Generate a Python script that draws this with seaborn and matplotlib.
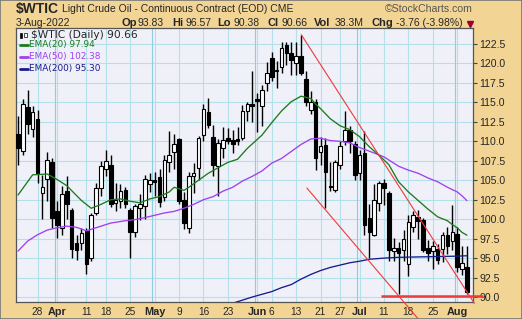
import matplotlib
matplotlib.use("Agg")
import matplotlib.pyplot as plt
import seaborn as sns
import pandas as pd
import numpy as np
from matplotlib.patches import Rectangle
from matplotlib.lines import Line2D

# ---------------- data ----------------
dates = ["03-22", "03-23", "03-24", "03-25", "03-28", "03-29", "03-30", "03-31",
         "04-01", "04-04", "04-05", "04-06", "04-07", "04-08", "04-11", "04-12",
         "04-13", "04-14", "04-18", "04-19", "04-20", "04-21", "04-22", "04-25",
         "04-26", "04-27", "04-28", "04-29", "05-02", "05-03", "05-04", "05-05",
         "05-06", "05-09", "05-10", "05-11", "05-12", "05-13", "05-16", "05-17",
         "05-18", "05-19", "05-20", "05-23", "05-24", "05-25", "05-26", "05-27",
         "05-31", "06-01", "06-02", "06-03", "06-06", "06-07", "06-08", "06-09",
         "06-10", "06-13", "06-14", "06-15", "06-16", "06-17", "06-21", "06-22",
         "06-23", "06-24", "06-27", "06-28", "06-29", "06-30", "07-01", "07-05",
         "07-06", "07-07", "07-08", "07-11", "07-12", "07-13", "07-14", "07-15",
         "07-18", "07-19", "07-20", "07-21", "07-22", "07-25", "07-26", "07-27",
         "07-28", "07-29", "08-01", "08-02", "08-03"]

opens = [110.9, 108.7, 114.4, 111.6, 112.9, 103.3, 105.1, 107.4, 101.1, 98.9,
         103.6, 101.2, 97.0, 96.9, 98.5, 95.0, 100.8, 104.0, 106.5, 107.0,
         102.1, 102.3, 103.8, 101.2, 98.4, 101.4, 101.7, 104.5, 105.0, 105.4,
         102.9, 107.4, 108.6, 110.3, 102.5, 98.9, 105.5, 106.6, 110.8, 113.8,
         110.6, 106.8, 109.1, 110.4, 110.2, 110.3, 110.4, 113.9, 114.8, 115.5,
         114.6, 117.5, 120.7, 119.0, 119.6, 122.4, 121.3, 120.1, 120.9, 118.0,
         114.0, 115.0, 108.6, 109.5, 104.2, 103.8, 107.0, 110.0, 111.5, 109.6,
         105.9, 108.5, 100.2, 98.0, 102.1, 104.7, 103.4, 95.9, 96.3, 96.1,
         94.3, 99.0, 100.3, 99.9, 96.3, 95.9, 96.2, 96.2, 98.0, 97.2,
         98.1, 93.6, 93.83]
highs = [113.2, 115.4, 116.6, 114.6, 114.0, 105.7, 108.6, 107.8, 102.3, 104.2,
         105.5, 101.5, 98.0, 98.9, 98.9, 100.8, 104.6, 107.5, 108.9, 108.3,
         104.6, 104.5, 104.1, 101.4, 101.9, 103.2, 105.7, 105.9, 106.0, 106.5,
         108.3, 111.3, 110.9, 110.4, 103.5, 106.1, 107.2, 110.7, 114.8, 115.6,
         112.1, 110.3, 111.9, 111.7, 111.5, 111.9, 114.7, 115.0, 119.0, 116.2,
         117.3, 120.2, 121.5, 120.3, 122.8, 122.8, 122.7, 122.7, 123.7, 119.0,
         116.5, 115.5, 110.5, 110.4, 107.4, 107.6, 110.0, 113.9, 112.0, 110.0,
         108.9, 111.3, 101.9, 104.5, 104.9, 105.1, 103.6, 97.6, 97.1, 98.6,
         100.6, 101.0, 101.2, 100.1, 97.3, 97.2, 96.8, 98.3, 99.0, 101.8,
         99.0, 96.6, 96.57]
lows = [107.0, 108.2, 111.0, 110.5, 104.6, 100.0, 102.3, 98.9, 97.6, 98.0,
        100.0, 95.0, 94.8, 96.0, 92.9, 94.6, 100.5, 103.0, 105.5, 101.6,
        101.0, 101.5, 101.5, 95.0, 97.7, 99.9, 100.0, 103.5, 103.0, 101.6,
        102.3, 106.0, 106.5, 101.9, 98.7, 98.2, 103.4, 105.0, 110.0, 111.7,
        105.5, 103.0, 107.8, 109.6, 108.5, 109.5, 110.2, 112.6, 112.5, 111.2,
        112.0, 116.5, 117.8, 116.8, 118.8, 119.8, 118.5, 118.5, 118.5, 114.6,
        113.5, 106.3, 106.9, 101.4, 103.6, 103.5, 106.5, 109.5, 108.5, 105.0,
        105.0, 98.0, 95.0, 97.8, 101.0, 101.8, 94.6, 94.6, 90.4, 94.6,
        92.7, 98.3, 97.5, 95.8, 94.6, 93.6, 94.3, 94.5, 95.5, 96.0,
        93.2, 92.8, 90.38]
closes = [109.1, 114.8, 112.2, 113.8, 105.9, 104.1, 107.6, 100.2, 99.2, 103.2,
          101.9, 96.2, 96.0, 98.2, 94.3, 100.5, 104.0, 106.8, 107.5, 102.0,
          102.5, 103.6, 101.9, 98.4, 101.7, 101.9, 105.1, 105.0, 104.8, 102.2,
          107.6, 108.3, 109.6, 102.3, 99.5, 105.5, 105.9, 110.4, 114.1, 112.1,
          106.9, 109.8, 110.2, 110.1, 109.6, 110.1, 113.9, 114.8, 114.5, 115.2,
          116.6, 118.8, 118.3, 119.2, 122.0, 121.3, 120.5, 120.9, 118.8, 115.0,
          115.0, 107.9, 109.4, 106.0, 104.1, 107.4, 109.4, 111.5, 110.0, 105.7,
          108.3, 99.3, 98.4, 102.5, 104.7, 104.0, 96.1, 96.3, 95.7, 97.4,
          99.6, 100.5, 99.8, 96.1, 95.7, 96.5, 94.8, 98.0, 96.5, 98.4,
          93.9, 94.42, 90.66]

# EMA overlays, read at sampled trading days (index into dates)
ema20_day = [0, 3, 6, 8, 10, 13, 15, 17, 19, 21, 23, 25, 27, 29, 31, 32, 34, 35,
             37, 39, 41, 43, 45, 47, 50, 52, 54, 56, 58, 60, 61, 62, 64, 66, 68,
             70, 72, 74, 76, 78, 80, 82, 84, 86, 88, 89, 90, 91, 92]
ema20_val = [103.1, 105.7, 105.8, 105.1, 104.3, 102.4, 101.4, 101.9, 102.5, 102.6,
             102.3, 102.1, 102.6, 102.9, 103.5, 104.1, 103.7, 104.1, 105.0, 105.9,
             106.6, 107.3, 107.7, 109.1, 110.8, 112.4, 113.9, 115.1, 115.8, 115.5,
             114.8, 114.2, 112.9, 112.0, 111.5, 110.6, 109.3, 108.2, 107.0, 104.8,
             103.5, 102.4, 101.3, 100.3, 99.8, 99.3, 98.9, 98.3, 97.94]
ema50_day = [0, 2, 4, 6, 8, 10, 12, 14, 16, 19, 22, 24, 26, 28, 30, 32, 34, 36, 38,
             40, 42, 44, 46, 48, 50, 52, 54, 56, 58, 60, 62, 64, 66, 68, 70, 73,
             75, 78, 80, 82, 84, 86, 88, 90, 91, 92]
ema50_val = [95.9, 97.2, 98.0, 98.6, 98.9, 99.1, 98.95, 98.5, 98.9, 99.5, 99.8,
             99.95, 100.2, 100.5, 100.8, 101.0, 101.4, 101.9, 102.5, 102.9, 103.6,
             104.1, 104.9, 105.5, 106.2, 107.2, 107.8, 108.7, 109.6, 110.3, 110.4,
             110.1, 110.0, 109.8, 109.2, 108.5, 108.0, 106.8, 106.3, 105.9, 105.3,
             104.8, 104.1, 103.5, 103.0, 102.38]
ema200_day = [44, 46, 48, 50, 52, 54, 56, 58, 60, 62, 64, 66, 68, 70, 72, 75, 78,
              82, 86, 90, 92]
ema200_val = [89.2, 89.6, 90.0, 90.35, 90.7, 91.2, 91.6, 92.3, 92.9, 93.4, 93.8,
              94.1, 94.4, 94.6, 94.85, 95.0, 95.1, 95.15, 95.2, 95.25, 95.30]

# hand-drawn annotation lines (trading-day index, price)
upper_line = ([58.05, 93.5], [123.7, 89.2])
lower_line = ([59.2, 82.0], [104.0, 87.2])
support_line = ([74.4, 95.2], [90.13, 90.13])

tick_days = [4, 8, 14, 18, 23, 28, 33, 38, 43, 49, 52, 57, 62, 66, 70, 75, 80, 85, 90]
tick_labels = ["28", "Apr", "11", "18", "25", "May", "9", "16", "23", "Jun", "6",
               "13", "21", "27", "Jul", "11", "18", "25", "Aug"]
month_labels = {"Apr", "May", "Jun", "Jul", "Aug"}
y_ticks = [90.0, 92.5, 95.0, 97.5, 100.0, 102.5, 105.0, 107.5, 110.0, 112.5,
           115.0, 117.5, 120.0, 122.5]

# ---------------- styling ----------------
W, H = 522, 319
TAN = "#F2D494"
PLOT_BG = "#EFF0F8"
GRID = "#B4E0EA"
GRID_M = "#8FCCDD"
RED = "#F03A3A"
C20, C50, C200 = "#1E7A1E", "#A040F0", "#1A1A8C"

sns.set_style("white")
plt.rcParams['font.family'] = ['Liberation Sans', 'DejaVu Sans']

fig = plt.figure(figsize=(W / 100, H / 100), dpi=100)
fig.patch.set_facecolor(TAN)


def fx(x):
    return x / W


def fy(y):
    return 1 - y / H


ax = fig.add_axes([fx(16), fy(302), (473 - 16) / W, (302 - 28) / H])
ax.set_facecolor(PLOT_BG)
ax.set_xlim(-0.41, 93.24)
ax.set_ylim(89.36, 124.56)

# grid
for yv in y_ticks:
    ax.axhline(yv, color=GRID, lw=0.8, zorder=0)
for d, lab in zip(tick_days, tick_labels):
    if lab in month_labels:
        ax.axvline(d - 0.5, color=GRID_M, lw=0.8, zorder=0)
        ax.axvline(d, color=GRID, lw=0.8, zorder=0)
    else:
        ax.axvline(d, color=GRID, lw=0.8, zorder=0)

# candles
df = pd.DataFrame({"date": dates, "open": opens, "high": highs,
                   "low": lows, "close": closes})
df["x"] = np.arange(len(df))
up = df["close"] >= df["open"]
bottom = np.minimum(df["open"], df["close"])
height = np.maximum(np.abs(df["close"] - df["open"]), 0.12)
ax.vlines(df["x"], df["low"], df["high"], color="black", lw=1.0, zorder=3)
ax.bar(df["x"][up], height[up], bottom=bottom[up], width=0.74, color="white",
       edgecolor="black", lw=0.8, zorder=4)
ax.bar(df["x"][~up], height[~up], bottom=bottom[~up], width=0.74, color="black",
       edgecolor="black", lw=0.8, zorder=4)

# EMAs
sns.lineplot(x=ema200_day, y=ema200_val, ax=ax, color=C200, lw=0.95, zorder=5)
sns.lineplot(x=ema50_day, y=ema50_val, ax=ax, color=C50, lw=0.95, zorder=5)
sns.lineplot(x=ema20_day, y=ema20_val, ax=ax, color=C20, lw=0.95, zorder=5)

# trend lines
ax.plot(*upper_line, color=RED, lw=0.8, zorder=6, clip_on=False)
ax.plot(*lower_line, color=RED, lw=0.8, zorder=6, clip_on=False)
ax.plot(*support_line, color=RED, lw=1.8, zorder=6, clip_on=False,
        solid_capstyle="butt")

# axes
ax.yaxis.tick_right()
ax.set_yticks(y_ticks)
ax.set_yticklabels([f"{v:.1f}" for v in y_ticks])
ax.tick_params(axis="y", right=True, left=False, length=3, width=0.8,
               color="#444444", labelsize=7.6, pad=1.5)
ax.set_xticks(tick_days)
ax.set_xticklabels(tick_labels)
ax.set_xticks(df["x"], minor=True)
ax.tick_params(axis="x", which="major", length=0, labelsize=7.3, pad=3.5)
ax.tick_params(axis="x", which="minor", length=2, width=0.6, color="#666666")
for t in ax.get_xticklabels():
    if t.get_text() in month_labels:
        t.set_fontweight("bold")
        t.set_fontsize(7.8)
ax.set_xlabel("")
ax.set_ylabel("")
for s in ax.spines.values():
    s.set_color("#555555")
    s.set_linewidth(0.9)

# header
fig.text(fx(16), fy(9), "$WTIC", fontsize=10, fontweight="bold", va="center")
fig.text(fx(62), fy(9.5), "Light Crude Oil - Continuous Contract (EOD) CME",
         fontsize=7.5, va="center")
fig.text(fx(473), fy(9), "\u00a9StockCharts.com", fontsize=7.6, color="#555555",
         ha="right", va="center")
fig.text(fx(16), fy(23), "3-Aug-2022", fontsize=7.5, va="center")
for lx, lab, vx, val in [(121, "Op", 137, "93.83"), (172, "Hi", 186, "96.57"),
                         (217, "Lo", 233, "90.38"), (268, "Cl", 281, "90.66"),
                         (314, "Vol", 335, "38.3M"), (371, "Chg", 396, "-3.76 (-3.98%)")]:
    fig.text(fx(lx), fy(23), lab, fontsize=8, fontweight="bold", va="center")
    fig.text(fx(vx), fy(23), val, fontsize=7.5, va="center")
fig.add_artist(Line2D([fx(469.5)], [fy(23.5)], marker="v", markersize=4,
                      color="#990033", transform=fig.transFigure))

# legend inside plot
fig.add_artist(Rectangle((fx(19.5), fy(37.5)), 2.5 / W, 5 / H, facecolor="black",
                         edgecolor="black", lw=0.5, transform=fig.transFigure))
fig.add_artist(Rectangle((fx(24), fy(37)), 2.5 / W, 4 / H, facecolor="white",
                         edgecolor="black", lw=0.5, transform=fig.transFigure))
fig.text(fx(31), fy(35), "$WTIC (Daily) 90.66", family="DejaVu Sans",
         fontsize=7.7, va="center")
for yy, col, lab in [(45, C20, "EMA(20) 97.94"), (57, C50, "EMA(50) 102.38"),
                     (69, C200, "EMA(200) 95.30")]:
    fig.add_artist(Line2D([fx(20), fx(28)], [fy(yy), fy(yy)], color=col, lw=2,
                          transform=fig.transFigure))
    fig.text(fx(29), fy(yy), lab, family="DejaVu Sans", fontsize=6.4, color=col,
             va="center")

# outer frame
fig.add_artist(Rectangle((0, 0), 1, 1, fill=False, edgecolor="#777777", lw=1.2,
                         transform=fig.transFigure))

fig.savefig("out.png", dpi=100, facecolor=TAN)
